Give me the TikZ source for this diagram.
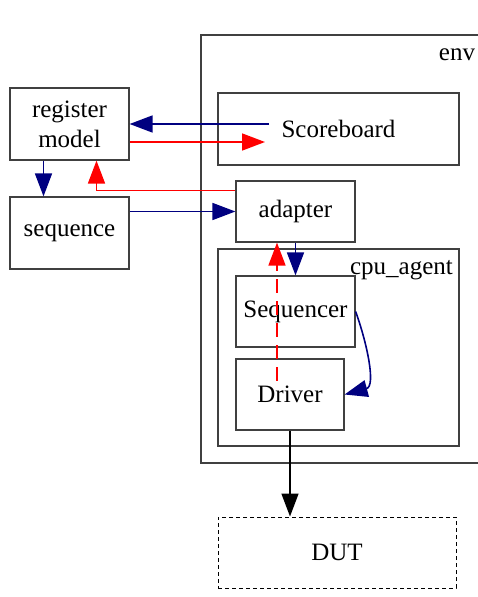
\documentclass[tikz,border=0pt]{standalone}
\usepackage{fontspec}
\setmainfont{Liberation Serif}
\usetikzlibrary{arrows.meta}
\definecolor{boxgray}{RGB}{64,64,64}
\definecolor{navyblue}{RGB}{0,0,128}

\begin{document}
\begin{tikzpicture}[
		x=1pt, y=-1pt,
		bigfont/.style={font=\fontsize{25}{30}\selectfont},
		mybox/.style={draw=boxgray, line width=1.2pt, inner sep=0pt, align=center, bigfont},
		bluearrow/.style={draw=navyblue, line width=1.6pt, -{Triangle[length=23pt,width=17pt,fill=navyblue]}},
		redarrow/.style={draw=red, line width=1.6pt, -{Triangle[length=23pt,width=17pt,fill=red]}},
		blackarrow/.style={draw=black, line width=1.6pt, -{Triangle[length=23pt,width=17pt,fill=black]}}
	]
	\useasboundingbox (0,0) rectangle (478,597);

	\node[mybox, minimum width=289pt, minimum height=428pt] (env) at (345.5,249) {};
	\node[bigfont] (envlabel) at (457,55) {env};

	\node[mybox, minimum width=241pt, minimum height=72pt] (scoreboard) at (338.5,129) {Scoreboard};
	\coordinate (sbin) at (269,124);
	\coordinate (sbout) at (265,142);

	\node[mybox, minimum width=119pt, minimum height=72pt] (regmodel) at (69.5,124) {register\\model};
	\node[mybox, minimum width=119pt, minimum height=72pt] (seq) at (69.5,233) {sequence};

	\node[mybox, minimum width=119pt, minimum height=61pt] (adapter) at (295.5,211.5) {adapter};

	\node[mybox, minimum width=241pt, minimum height=197pt] (agent) at (338.5,347.5) {};
	\node[bigfont] (agentlabel) at (401.5,270) {cpu\_agent};

	\node[mybox, minimum width=119pt, minimum height=71pt] (sqr) at (295.5,311.5) {Sequencer};
	\node[mybox, minimum width=108pt, minimum height=71pt] (drv) at (290,394.5) {Driver};

	\node[mybox, draw=black, line width=1pt, dash pattern=on 4pt off 3pt, minimum width=238pt, minimum height=71pt] (dut) at (337,552.5) {DUT};

	\draw[bluearrow] (sbin) -- (regmodel.east |- sbin);
	\draw[redarrow] (regmodel.east |- sbout) -- (sbout);

	\draw[bluearrow] ([xshift=-26pt]regmodel.south) -- ([xshift=-26pt]seq.north);
	\draw[redarrow] ([yshift=21pt]adapter.west) -| ([xshift=27pt]regmodel.south);
	\draw[bluearrow] (seq.east |- adapter.west) -- (adapter.west);

	\draw[bluearrow] (adapter.south) -- (sqr.north);
	\draw[redarrow, dash pattern=on 14pt off 8pt] ([xshift=-13pt,yshift=14pt]drv.center) -- ([xshift=-18.5pt]adapter.south);
	\draw[bluearrow] (sqr.east) to[out=-70, in=15] (drv.east);

	\draw[blackarrow] (drv.south) -- (drv.south |- dut.north);
\end{tikzpicture}
\end{document}
